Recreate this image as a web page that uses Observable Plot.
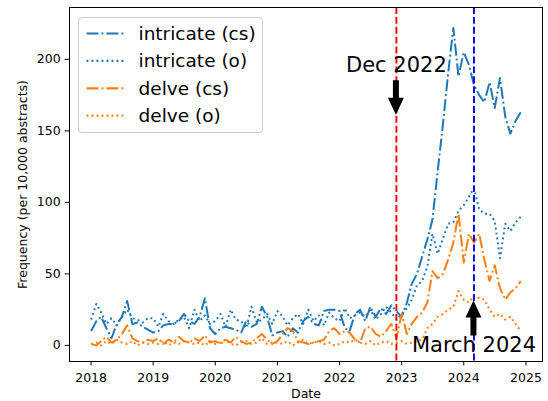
<!DOCTYPE html>
<html><head><meta charset="utf-8">
<script src="https://cdn.jsdelivr.net/npm/d3@7"></script>
<script src="https://cdn.jsdelivr.net/npm/@observablehq/plot@0.6"></script>
<style>body{margin:0;background:#fff} #chart svg{display:block}</style>
</head><body><div id="chart"></div>
<script>
// Monthly values, Jan 2018 .. Dec 2024
const intricateCs = [
  10, 17, 20, 12, 5, 15, 20, 31, 15, 16, 13, 11,
  9, 10, 14, 15, 15, 17, 22, 17, 15, 20, 33, 12,
  8, 12, 13, 12, 11, 9, 17, 13, 15, 27, 20, 7,
  9, 10, 6, 12, 9, 17, 20, 15, 14, 24, 25, 25,
  24, 12, 10, 22, 25, 17, 27, 20, 26, 22, 28, 24,
  20, 30, 43, 50, 62, 74, 88, 122, 155, 190, 222, 188,
  205, 196, 182, 175, 170, 184, 166, 187, 160, 148, 157, 163
];
const intricateO = [
  18, 29, 23, 15, 19, 14, 20, 25, 19, 18, 16, 19,
  19, 13, 22, 17, 15, 18, 20, 12, 25, 17, 21, 15,
  17, 22, 13, 25, 18, 17, 12, 27, 16, 18, 22, 15,
  24, 20, 14, 19, 22, 15, 25, 17, 21, 14, 23, 19,
  17, 26, 19, 21, 23, 20, 25, 18, 22, 27, 23, 18,
  22, 26, 32, 42, 45, 55, 78, 64, 75, 85, 86, 94,
  98, 104, 110, 95, 92, 92, 87, 61, 85, 80, 86, 90
];
const delveCs = [
  1, 0, 3, 6, 2, 4, 8, 14, 5, 3, 2, 4,
  3, 5, 1, 4, 2, 6, 3, 2, 5, 3, 7, 2,
  3, 1, 4, 2, 6, 3, 1, 2, 5, 8, 4, 1,
  3, 8, 12, 10, 3, 2, 1, 2, 3, 4, 10, 12,
  8, 10, 9, 4, 2, 12, 13, 8, 6, 10, 15, 5,
  22, 8, 15, 20, 23, 30, 52, 47, 50, 60, 72, 92,
  58, 78, 72, 78, 60, 45, 56, 40, 32, 37, 40, 45
];
const delveO = [
  1, 2, 0, 3, 1, 4, 2, 1, 3, 0, 2, 1,
  2, 1, 3, 0, 2, 1, 3, 2, 1, 2, 0, 3,
  1, 2, 4, 1, 0, 2, 3, 1, 2, 5, 1, 2,
  2, 1, 3, 0, 2, 4, 1, 2, 3, 1, 2, 0,
  1, 3, 2, 4, 2, 1, 3, 0, 2, 3, 1, 2,
  3, 1, 2, 3, 4, 12, 15, 20, 22, 25, 27, 38,
  32, 30, 35, 33, 32, 25, 20, 22, 18, 20, 15, 10
];
const seriesNames = ["intricate (cs)", "intricate (o)", "delve (cs)", "delve (o)"];
const seriesColors = ["#1f77b4", "#1f77b4", "#ff7f0e", "#ff7f0e"];
const seriesDash = ["12,3,1.9,3", "1.9,3.1", "12,3,1.9,3", "1.9,3.1"];
const seriesValues = [intricateCs, intricateO, delveCs, delveO];

const xTickYears = [2018, 2019, 2020, 2021, 2022, 2023, 2024, 2025];
const yTicks = [0, 50, 100, 150, 200];

const markerLabels = ["Dec 2022", "March 2024"];
const markerDates = [new Date(Date.UTC(2022, 11, 1)), new Date(Date.UTC(2024, 2, 1))];
const markerColors = ["red", "blue"];
const arrowTips = [161, 31];
const arrowTails = [185, 6.5];
const labelY = [195.6, 0];

const months = d3.utcMonth.range(new Date(Date.UTC(2018, 0, 1)), new Date(Date.UTC(2025, 0, 1)));
const rows = seriesValues.map(vals => months.map((d, i) => ({date: d, value: vals[i]})));

const FONT = "DejaVu Sans";

function arrowsMark(index, scales) {
  const {x, y} = scales;
  const g = d3.create("svg:g");
  markerDates.forEach((d, i) => {
    const px = x(d), tipY = y(arrowTips[i]), tailY = y(arrowTails[i]);
    const dir = Math.sign(tipY - tailY);
    const headLen = 17, headHalf = 8, shaftHalf = 3;
    const baseY = tipY - dir * headLen;
    const pts = [[px - shaftHalf, tailY], [px + shaftHalf, tailY], [px + shaftHalf, baseY], [px + headHalf, baseY],
                 [px, tipY], [px - headHalf, baseY], [px - shaftHalf, baseY]];
    g.append("polygon").attr("points", pts.map(p => p.join(",")).join(" ")).attr("fill", "black");
  });
  return g.node();
}

function legendMark(index, scales, values, dims) {
  const g = d3.create("svg:g");
  const x0 = dims.marginLeft + 9.5, y0 = dims.marginTop + 10.5;
  g.append("rect").attr("x", x0).attr("y", y0).attr("width", 184).attr("height", 115)
    .attr("rx", 3.5).attr("fill", "white").attr("fill-opacity", 0.8)
    .attr("stroke", "#cccccc").attr("stroke-width", 1);
  seriesNames.forEach((name, i) => {
    const cy = y0 + 16 + i * 27.4;
    g.append("line").attr("x1", x0 + 8).attr("x2", x0 + 45).attr("y1", cy).attr("y2", cy)
      .attr("stroke", seriesColors[i]).attr("stroke-width", 2.2)
      .attr("stroke-dasharray", seriesDash[i]).attr("stroke-linecap", "butt");
    g.append("text").attr("x", x0 + 60).attr("y", cy).attr("dy", "0.35em")
      .attr("text-anchor", "start")
      .attr("font-family", FONT).attr("font-size", 18.5).attr("fill", "black").text(name);
  });
  return g.node();
}

const lineMarks = rows.map((r, i) => Plot.line(r, {
  x: "date", y: "value", stroke: seriesColors[i], strokeWidth: 2,
  strokeDasharray: seriesDash[i], strokeLinecap: "butt", strokeLinejoin: "round"
}));

const chart = Plot.plot({
  width: 548, height: 401,
  marginLeft: 69, marginRight: 6, marginTop: 7, marginBottom: 40,
  style: {fontFamily: FONT, fontSize: "12.5px", background: "#fff", color: "#000"},
  x: {type: "utc", domain: [new Date(Date.UTC(2017, 7, 27)), new Date(Date.UTC(2025, 3, 8))]},
  y: {domain: [-11.25, 236.25]},
  marks: [
    ...lineMarks,
    Plot.ruleX(markerDates, {stroke: (d, i) => markerColors[i], strokeWidth: 1.9, strokeDasharray: "6.9,3"}),
    Plot.frame({stroke: "#000", strokeWidth: 1}),
    Plot.axisX(xTickYears.map(yr => new Date(Date.UTC(yr, 0, 1))), {
      tickFormat: d3.utcFormat("%Y"), tickSize: 4.4, tickPadding: 7, label: null, fontSize: 12.5
    }),
    Plot.axisY(yTicks, {tickSize: 4.4, tickPadding: 4.5, label: null, fontSize: 12.5}),
    Plot.text(["Date"], {frameAnchor: "bottom", dy: 32, fontSize: 12.5, lineAnchor: "middle"}),
    Plot.text(["Frequency (per 10,000 abstracts)"], {frameAnchor: "left", dx: -47, rotate: -90,
      fontSize: 12.5, textAnchor: "middle", lineAnchor: "middle"}),
    Plot.text(markerLabels, {x: (d, i) => markerDates[i], y: (d, i) => labelY[i], text: d => d,
      fontSize: 21, fill: "black", lineAnchor: "middle", textAnchor: "middle"}),
    arrowsMark,
    legendMark
  ]
});
document.getElementById("chart").appendChild(chart);
</script>
</body></html>
